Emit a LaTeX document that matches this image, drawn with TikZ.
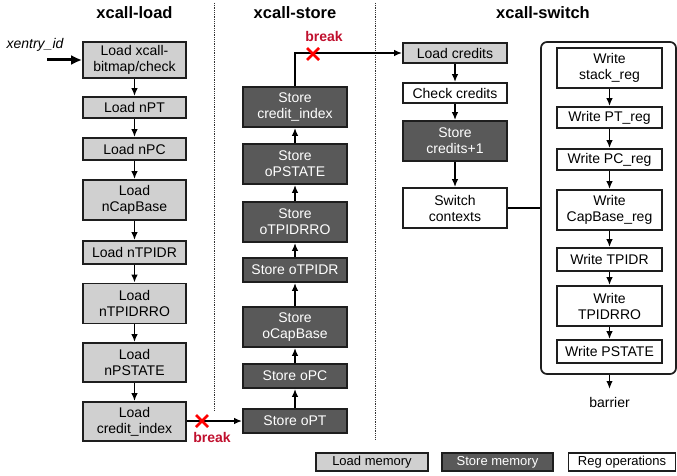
\documentclass[tikz,border=0pt]{standalone}
\usepackage{fontspec}
\setmainfont{Liberation Sans}
\usetikzlibrary{arrows.meta,calc}
\definecolor{loadfill}{RGB}{208,208,208}
\definecolor{storefill}{RGB}{89,89,89}
\definecolor{breakred}{RGB}{192,16,46}
\definecolor{xred}{RGB}{255,0,0}
\definecolor{edge}{RGB}{30,30,30}
\begin{document}
\begin{tikzpicture}[x=1pt,y=-1pt,
  txt/.style={font=\fontsize{14}{16}\selectfont},
  box/.style={txt,draw=edge,line width=1.7pt,align=center,inner sep=0pt,minimum height=#1},
  box/.default=22,
  ldbox/.style={box=#1,fill=loadfill,minimum width=103},
  ldbox/.default=22,
  stbox/.style={box=#1,fill=storefill,text=white,minimum width=104},
  stbox/.default=24,
  rgbox/.style={box=#1,fill=white,minimum width=104},
  rgbox/.default=20,
  wrbox/.style={box=#1,fill=white,minimum width=105},
  wrbox/.default=22,
  legbox/.style={draw=edge,line width=1.7pt,inner sep=0pt,minimum height=18,font=\fontsize{13}{15}\selectfont},
  arr/.style={line width=1.6pt,-{Latex[length=8pt,width=6.5pt]}},
  ln/.style={line width=1.6pt},
  title/.style={font=\fontsize{16.5}{18}\selectfont\bfseries},
  brk/.style={font=\fontsize{14}{16}\selectfont\bfseries,text=breakred},
  sep/.style={densely dotted,line width=0.8pt,draw=black!80},
  xmark/.style={draw=xred,line width=2.6pt}
]
\useasboundingbox (0,0) rectangle (677,476);

% titles
\node[title] (t1) at (134.5,13) {xcall-load};
\node[title] (t2) at (295,13) {xcall-store};
\node[title] (t3) at (543,13) {xcall-switch};

% separators
\draw[sep] (214,3) -- (214,411);
\draw[sep] (375,3) -- (375,440);

% xcall-load column
\node[ldbox=36] (l1) at (134.5,60) {Load xcall-\\bitmap/check};
\node[ldbox=21] (l2) at (134.5,107.5) {Load nPT};
\node[ldbox=22] (l3) at (134.5,149) {Load nPC};
\node[ldbox=40] (l4) at (134.5,200) {Load\\nCapBase};
\node[ldbox=23] (l5) at (134.5,252.5) {Load nTPIDR};
\node[ldbox=40] (l6) at (134.5,303.5) {Load\\nTPIDRRO};
\node[ldbox=39] (l7) at (134.5,362.5) {Load\\nPSTATE};
\node[ldbox=39] (l8) at (134.5,421.5) {Load\\credit\_index};
\foreach \a/\b in {l1/l2,l2/l3,l3/l4,l4/l5,l5/l6,l6/l7,l7/l8}
  \draw[arr] (\a) -- (\b);

\node[txt,font=\fontsize{14}{16}\selectfont\itshape] (xid) at (35,45) {xentry\_id};
\coordinate (xin) at (47,60);
\draw[line width=3pt,-{Latex[length=11pt,width=10pt]}] (xin) -- (l1.west);

% xcall-store column
\node[stbox=24] (s1) at (295,421) {Store oPT};
\node[stbox=24] (s2) at (295,376) {Store oPC};
\node[stbox=40] (s3) at (295,327) {Store\\oCapBase};
\node[stbox=24] (s4) at (295,270) {Store oTPIDR};
\node[stbox=40] (s5) at (295,222) {Store\\oTPIDRRO};
\node[stbox=40] (s6) at (295,164) {Store\\oPSTATE};
\node[stbox=40] (s7) at (295,107) {Store\\credit\_index};
\foreach \a/\b in {s1/s2,s2/s3,s3/s4,s4/s5,s5/s6,s6/s7}
  \draw[arr] (\a) -- (\b);

% break from load to store
\draw[arr] (l8.east |- s1.west) -- (s1.west);
\coordinate (x1) at (202,421);
\draw[xmark] ($(x1)+(-6,-6)$) -- ($(x1)+(6,6)$);
\draw[xmark] ($(x1)+(-6,6)$) -- ($(x1)+(6,-6)$);
\node[brk] (b1) at (212,437) {break};

% xcall-switch column
\node[rgbox=20,fill=loadfill] (c1) at (455,53) {Load credits};
\node[rgbox=20] (c2) at (455,93) {Check credits};
\node[rgbox=40,fill=storefill,text=white] (c3) at (455,141) {Store\\credits+1};
\node[rgbox=40] (c4) at (455,208) {Switch\\contexts};
\foreach \a/\b in {c1/c2,c2/c3,c3/c4}
  \draw[arr] (\a) -- (\b);

% break from store to switch
\draw[arr] (s7.north) |- (c1.west);
\coordinate (x2) at (313,54);
\draw[xmark] ($(x2)+(-6,-6)$) -- ($(x2)+(6,6)$);
\draw[xmark] ($(x2)+(-6,6)$) -- ($(x2)+(6,-6)$);
\node[brk] (b2) at (324,36) {break};

% container
\node[draw=edge,line width=1.7pt,rounded corners=6pt,minimum width=135,minimum height=332,inner sep=0pt] (cont) at (608.5,208) {};
\draw[ln] (c4.east) -- (c4.east -| cont.west);

\node[wrbox=40] (w1) at (609.5,68) {Write\\stack\_reg};
\node[wrbox=21] (w2) at (609.5,117.5) {Write PT\_reg};
\node[wrbox=21] (w3) at (609.5,159.5) {Write PC\_reg};
\node[wrbox=40] (w4) at (609.5,210) {Write\\CapBase\_reg};
\node[wrbox=23] (w5) at (609.5,259.5) {Write TPIDR};
\node[wrbox=40] (w6) at (609.5,306) {Write\\TPIDRRO};
\node[wrbox=23] (w7) at (609.5,351.5) {Write PSTATE};
\foreach \a/\b in {w1/w2,w2/w3,w3/w4,w4/w5,w5/w6,w6/w7}
  \draw[arr] (\a) -- (\b);

\node[txt,inner sep=0pt] (bar) at (609.5,402) {barrier};
\draw[arr] (cont.south -| bar) -- (609.5,389);

% legend
\node[legbox,fill=loadfill,minimum width=112] (g1) at (372,462) {Load memory};
\node[legbox,fill=storefill,text=white,minimum width=111] (g2) at (497.5,462) {Store memory};
\node[legbox,fill=white,minimum width=107] (g3) at (622,462) {Reg operations};
\end{tikzpicture}
\end{document}
